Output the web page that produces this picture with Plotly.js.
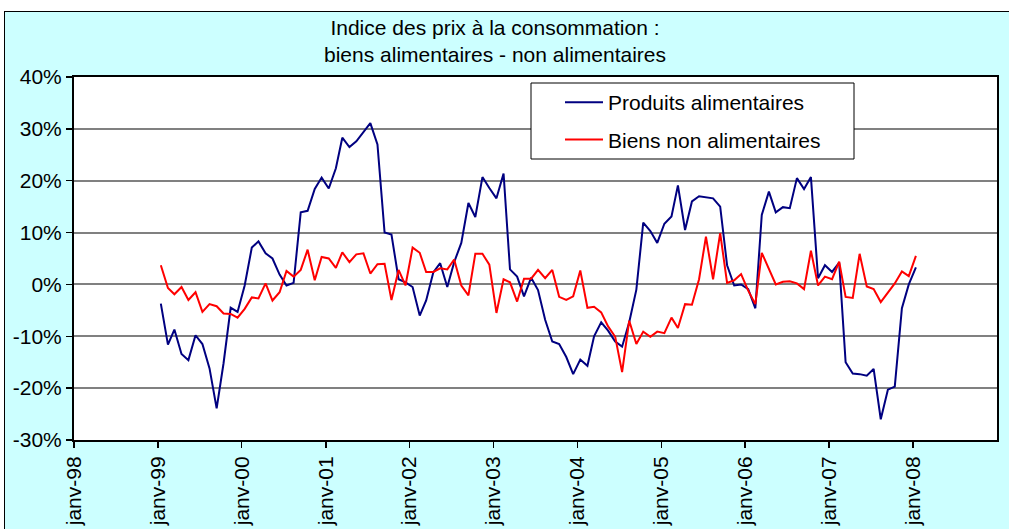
<!DOCTYPE html>
<html><head><meta charset="utf-8">
<script src="https://cdn.plot.ly/plotly-3.0.1.min.js"></script>
<style>
html,body{margin:0;padding:0;background:#fff;overflow:hidden;}
#frame{position:absolute;left:4px;top:11px;width:1030px;height:540px;background:#CCFFFF;border:1.5px solid #000;box-sizing:border-box;}
#chart{position:absolute;left:0;top:0;width:1009px;height:529px;}
</style></head><body>
<div id="frame"></div><div id="chart"></div>
<script>
// Monthly series, January 1999 to January 2008 (year-on-year change, %)
const firstYear = 1999;
const firstMonth = 1;
const produitsAlimentaires = [
 -3.7,-11.6,-8.7,-13.4,-14.6,-9.8,-11.5,-16.2,-23.9,-15.2,-4.5,-5.3,
 -0.2,7.1,8.3,6.0,5.0,1.9,-0.2,0.3,13.9,14.2,18.4,20.6,
 18.5,22.4,28.3,26.5,27.6,29.4,31.1,27.0,10.0,9.6,1.0,0.4,
 -0.5,-6.0,-3.1,2.3,4.1,-0.5,4.3,8.0,15.7,13.0,20.7,18.6,
 16.6,21.4,2.9,1.5,-2.3,1.3,-1.1,-6.8,-11.0,-11.5,-14.0,-17.3,
 -14.5,-15.7,-10.0,-7.3,-8.9,-11.0,-12.0,-7.3,-1.0,11.9,10.3,8.0,
 11.7,13.1,19.1,10.5,16.0,17.0,16.8,16.6,15.0,3.7,-0.2,0.0,
 -0.9,-4.6,13.4,17.9,13.9,14.9,14.7,20.5,18.4,20.7,1.2,3.7,
 2.4,4.2,-15.0,-17.2,-17.3,-17.6,-16.3,-26.0,-20.3,-19.7,-4.6,0.0,
 3.3
];
const biensNonAlimentaires = [
 3.7,-0.7,-1.9,-0.5,-3.0,-1.5,-5.3,-3.8,-4.2,-5.6,-5.7,-6.4,
 -4.7,-2.5,-2.7,0.2,-3.1,-1.5,2.6,1.5,2.8,6.7,0.8,5.3,
 5.0,3.2,6.2,4.3,5.8,6.0,2.1,3.9,4.0,-3.0,2.8,-0.2,
 7.1,6.1,2.4,2.4,3.1,2.9,4.8,-0.2,-2.1,5.9,5.9,3.8,
 -5.5,1.0,0.4,-3.3,1.1,1.1,2.8,1.2,2.8,-2.4,-3.0,-2.3,
 2.7,-4.5,-4.3,-5.4,-8.1,-10.1,-16.9,-7.0,-11.5,-9.1,-10.1,-9.1,
 -9.4,-6.4,-8.4,-3.8,-3.9,1.0,9.2,1.0,9.9,0.3,0.8,2.0,
 -1.2,-3.8,6.1,3.1,0.0,0.5,0.6,0.2,-0.9,6.5,-0.2,1.5,
 1.0,4.4,-2.4,-2.6,5.9,-0.4,-0.9,-3.4,-1.5,0.2,2.5,1.6,
 5.5
];
const tickDates = ['1998-01-01','1999-01-01','2000-01-01','2001-01-01','2002-01-01','2003-01-01',
 '2004-01-01','2005-01-01','2006-01-01','2007-01-01','2008-01-01'];
const tickLabels = ['janv-98','janv-99','janv-00','janv-01','janv-02','janv-03',
 'janv-04','janv-05','janv-06','janv-07','janv-08'];
const seriesNames = ['Produits alimentaires','Biens non alimentaires'];
const titleText = 'Indice des prix à la consommation :<br>biens alimentaires - non alimentaires';

function monthDates(n){
  const out = [];
  for(let i=0;i<n;i++){
    const m0 = firstMonth - 1 + i;
    const y = firstYear + Math.floor(m0/12);
    const m = (m0 % 12) + 1;
    out.push(y + '-' + String(m).padStart(2,'0') + '-14');
  }
  return out;
}
const dates = monthDates(produitsAlimentaires.length);
const FONT = 'Arial, "Liberation Sans", sans-serif';

const traces = [
  {x: dates, y: produitsAlimentaires, name: seriesNames[0], type:'scatter', mode:'lines',
   line:{color:'#000080', width:2}, legendgroup:'a'},
  {x: dates, y: biensNonAlimentaires, name: seriesNames[1], type:'scatter', mode:'lines',
   line:{color:'#FF0000', width:2}, legendgroup:'b'}
];

const layout = {
  width:1009, height:529,
  margin:{l:74, r:12, t:77, b:89, pad:0},
  paper_bgcolor:'rgba(0,0,0,0)',
  plot_bgcolor:'#FFFFFF',
  font:{family:FONT, size:21, color:'#000'},
  title:{text:titleText, font:{family:FONT, size:21, color:'#000'},
    xref:'container', x:495/1009, xanchor:'center',
    yref:'container', y:1-35/529, yanchor:'top'},
  xaxis:{type:'date', range:['1998-01-01','2009-01-01'],
    tickmode:'array', tickvals:tickDates, ticktext:tickLabels,
    tickangle:-90, ticks:'outside', ticklen:6, tickwidth:1.5, tickcolor:'#000',
    showgrid:false, zeroline:false, showline:true, linecolor:'#000', linewidth:2, mirror:true,
    tickfont:{family:FONT, size:21, color:'#000'}},
  yaxis:{range:[-30,40], tickmode:'array', tickvals:[-30,-20,-10,0,10,20,30,40],
    ticktext:['-30%','-20%','-10%','0%','10%','20%','30%','40%'],
    ticks:'outside', ticklen:6, tickwidth:1.5, tickcolor:'#000',
    showgrid:true, gridcolor:'#808080', gridwidth:2,
    zeroline:false, showline:true, linecolor:'#000', linewidth:2, mirror:true,
    tickfont:{family:FONT, size:21, color:'#000'}},
  showlegend:true,
  legend:{x:(560-74)/923, xanchor:'left', y:(440-82)/363, yanchor:'top',
    bgcolor:'rgba(0,0,0,0)', borderwidth:0, itemwidth:38,
    traceorder:'grouped', tracegroupgap:7,
    font:{family:FONT, size:21, color:'#000'}},
  shapes:[
    {type:'rect', xref:'paper', yref:'paper', layer:'above',
     x0:(531-74)/923, x1:(854-74)/923, y0:(440-159)/363, y1:(440-83)/363,
     fillcolor:'#FFFFFF', line:{color:'#000', width:1}}
  ]
};

Plotly.newPlot('chart', traces, layout, {displayModeBar:false, staticPlot:true});
</script></body></html>
